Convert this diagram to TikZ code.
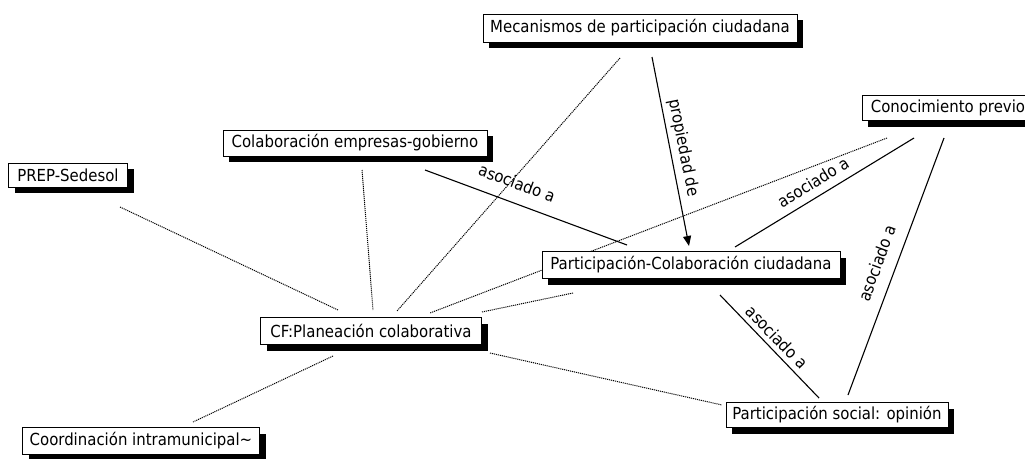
\documentclass[tikz,border=0pt]{standalone}
\usepackage{fontspec}
\setmainfont{DejaVu Sans Condensed}
\usetikzlibrary{shadows,arrows.meta,backgrounds}
\begin{document}
\begin{tikzpicture}[x=1pt,y=-1pt,
  txt/.style={font=\fontsize{16.6}{19}\selectfont},
  concept/.style={txt, draw=black, line width=0.8pt, fill=white, inner sep=0pt,
    drop shadow={shadow xshift=6pt, shadow yshift=-6pt, opacity=1, fill=black}},
  link/.style={line width=1.1pt},
  dot/.style={dash pattern=on 1.1pt off 0.9pt, line width=1pt},
  lbl/.style={txt, inner sep=0pt}]
\useasboundingbox (0,0) rectangle (1025,458);

\node[concept, minimum width=314pt, minimum height=28pt] (mec) at (640,28) {Mecanismos de participación ciudadana};
\node[concept, minimum width=172pt, minimum height=25pt] (con) at (948,108) {Conocimiento previo};
\node[concept, minimum width=119pt, minimum height=24pt] (prep) at (68,175) {PREP-Sedesol};
\node[concept, minimum width=264pt, minimum height=26pt] (cola) at (355,143) {Colaboración empresas-gobierno};
\node[concept, minimum width=298pt, minimum height=27pt] (pc) at (691,265) {Participación-Colaboración ciudadana};
\node[concept, minimum width=221pt, minimum height=27pt] (cf) at (371,331) {CF:Planeación colaborativa};
\node[concept, minimum width=222pt, minimum height=25pt] (ps) at (837,415) {Participación social: opinión};
\node[concept, minimum width=237pt, minimum height=27pt] (coord) at (141,441) {Coordinación intramunicipal\textasciitilde};

\begin{pgfonlayer}{background}
\fill[white] (0,0) rectangle (1025,458);
\draw[link, -{Triangle[length=10pt,width=8pt]}] ([shift={(12,29)}]mec.center) -- ([shift={(-2,-19)}]pc.center);
\draw[link] ([shift={(-34,30)}]con.center) -- ([shift={(44,-18)}]pc.center);
\draw[link] ([shift={(-4,30)}]con.center) -- ([shift={(11,-20)}]ps.center);
\draw[link] ([shift={(70,27)}]cola.center) -- ([shift={(-64,-20)}]pc.center);
\draw[link] ([shift={(29,30)}]pc.center) -- ([shift={(-18,-17)}]ps.center);

\draw[dot] ([shift={(52,32)}]prep.center) -- ([shift={(-33,-21)}]cf.center);
\draw[dot] ([shift={(7,27)}]cola.center) -- ([shift={(2,-21)}]cf.center);
\draw[dot] ([shift={(-20,30)}]mec.center) -- ([shift={(26,-20)}]cf.center);
\draw[dot] ([shift={(-61,30)}]con.center) -- ([shift={(59,-18)}]cf.center);
\draw[dot] ([shift={(-118,28)}]pc.center) -- ([shift={(111,-19)}]cf.center);
\draw[dot] ([shift={(119,22)}]cf.center) -- ([shift={(-115,-10)}]ps.center);
\draw[dot] ([shift={(-38,25)}]cf.center) -- ([shift={(52,-19)}]coord.center);
\end{pgfonlayer}

\node[lbl, rotate=-78.6] (l1) at (683,148) {propiedad de};
\node[lbl, rotate=31.6] (l2) at (813,182) {asociado a};
\node[lbl, rotate=70] (l3) at (877,263) {asociado a};
\node[lbl, rotate=-20.4] (l4) at (517,183) {asociado a};
\node[lbl, rotate=-46] (l5) at (777,337) {asociado a};
\end{tikzpicture}
\end{document}
